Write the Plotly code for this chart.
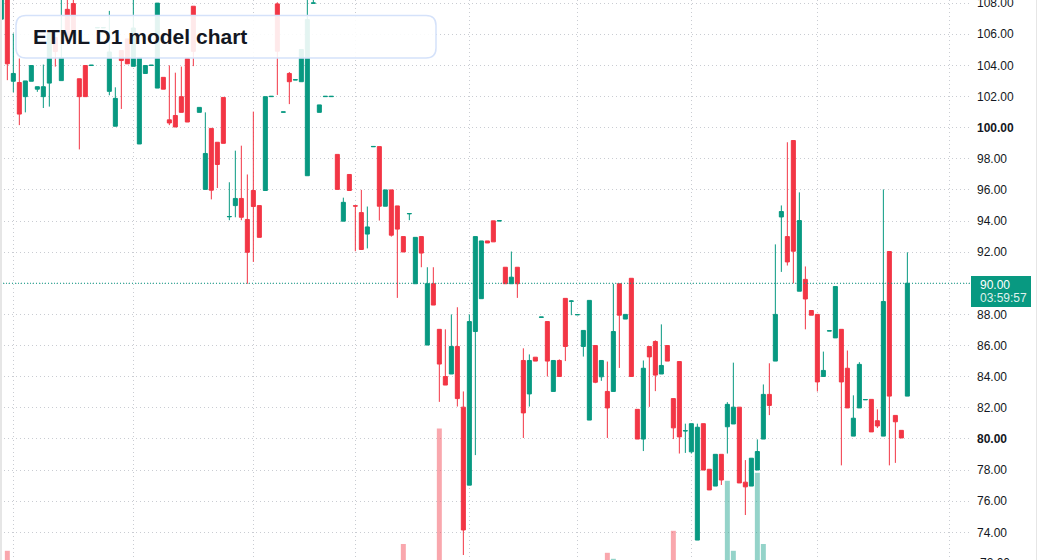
import plotly.graph_objects as go

# ---------------- data ----------------
opens = [
    106.97, 108.9, 102.98, 102.9, 101.99, 102.98, 102.47, 101.99, 102.86, 105.79,
    103.02, 107.6, 107.97, 103.14, 103.99, 103.99, 106.41, 106.41, 102.33, 100.09,
    104.95, 105.7, 103.94, 98.95, 103.48, 103.99, 102.54, 103.23, 100.5, 100.78,
    101.99, 104.44, 107.8, 100.98, 96.03, 99.95, 99.06, 101.94, 94.27, 94.99,
    95.45, 94.1, 95.96, 94.99, 95.96, 101.99, 107.95, 100.99, 103.48, 103.06,
    102.95, 96.91, 107.99, 100.98, 101.99, 101.99, 98.28, 93.99, 96.99, 94.98,
    94.54, 93.16, 98.77, 98.78, 94.95, 96.0, 94.97, 93.0, 94.46, 89.97,
    93.0, 86.03, 89.97, 87.04, 84.01, 84.17, 85.94, 82.04, 77.03, 86.9,
    89.01, 92.72, 94.01, 94.0, 91.03, 89.97, 91.03, 85.04, 82.89, 85.25,
    87.81, 87.54, 83.05, 85.04, 89.03, 88.84, 87.97, 85.94, 81.21, 86.0,
    83.99, 83.05, 83.05, 89.97, 87.7, 90.32, 81.9, 79.99, 85.94, 86.26,
    84.17, 86.0, 82.59, 84.97, 80.51, 79.17, 73.5, 80.98, 78.05, 76.97,
    79.01, 80.78, 80.96, 82.04, 77.22, 76.97, 78.0, 79.99, 82.86, 85.0,
    94.26, 93.0, 99.17, 89.49, 90.25, 88.25, 88.0, 84.01, 86.93, 86.49,
    87.04, 84.54, 80.18, 81.99, 82.51, 82.54, 81.17, 80.18, 92.04, 81.51,
    80.55, 82.75,
]
highs = [
    108.8, 109.0, 106.05, 104.44, 103.0, 103.99, 102.63, 104.05, 106.05, 105.79,
    108.6, 108.6, 108.6, 103.14, 103.99, 104.01, 106.43, 106.43, 107.5, 102.59,
    104.95, 105.7, 108.6, 104.5, 103.99, 104.01, 108.0, 103.23, 104.0, 103.53,
    103.92, 104.44, 107.8, 101.3, 100.98, 99.95, 99.06, 101.94, 96.49, 98.52,
    98.84, 96.99, 101.03, 94.99, 101.99, 102.01, 108.05, 101.01, 103.57, 103.08,
    105.02, 108.6, 108.4, 101.46, 102.01, 102.01, 98.28, 95.5, 96.99, 94.98,
    96.0, 94.93, 98.79, 98.78, 96.0, 96.0, 94.97, 93.0, 94.48, 92.95,
    93.0, 91.03, 91.03, 87.04, 87.04, 88.0, 88.46, 83.05, 88.0, 93.0,
    92.72, 92.72, 94.01, 94.02, 91.03, 92.04, 91.03, 85.82, 85.43, 85.25,
    87.83, 87.54, 85.04, 85.11, 89.03, 88.9, 87.99, 86.97, 88.9, 86.0,
    85.04, 84.97, 89.97, 89.97, 88.0, 90.32, 81.9, 85.04, 85.94, 86.33,
    87.36, 86.0, 82.59, 84.97, 80.98, 80.98, 80.98, 80.98, 78.05, 79.01,
    79.01, 82.36, 84.9, 82.04, 78.64, 78.76, 79.97, 83.5, 84.86, 92.5,
    95.0, 99.06, 99.17, 95.84, 91.08, 88.25, 88.0, 85.61, 86.95, 89.79,
    87.04, 85.68, 82.8, 84.93, 82.53, 82.54, 81.9, 96.03, 92.04, 81.51,
    80.55, 91.99,
]
lows = [
    106.97, 103.05, 102.27, 100.16, 100.98, 102.98, 102.3, 101.26, 101.35, 103.92,
    103.02, 105.3, 106.24, 98.6, 101.99, 103.99, 106.41, 106.41, 102.08, 100.09,
    101.2, 104.1, 103.94, 98.95, 103.48, 103.99, 102.54, 102.47, 100.16, 100.04,
    100.98, 100.36, 103.95, 100.98, 96.03, 95.39, 96.12, 98.99, 94.05, 94.24,
    94.05, 89.97, 91.37, 92.95, 95.96, 101.99, 102.1, 100.99, 101.51, 103.06,
    102.95, 96.91, 107.99, 100.98, 101.99, 101.99, 96.03, 93.99, 95.96, 92.06,
    92.17, 92.24, 98.77, 94.03, 94.95, 93.0, 89.06, 92.01, 94.05, 89.97,
    91.03, 86.03, 88.6, 82.38, 83.46, 84.17, 82.08, 72.54, 77.03, 78.96,
    89.01, 92.59, 92.66, 94.0, 89.97, 89.97, 89.06, 80.06, 82.08, 85.0,
    87.81, 84.01, 83.05, 84.01, 85.0, 87.95, 87.97, 85.29, 81.21, 83.58,
    83.73, 80.06, 83.05, 84.56, 87.7, 84.01, 79.99, 79.22, 82.06, 83.07,
    84.17, 85.0, 79.99, 79.06, 79.1, 79.06, 73.5, 78.0, 76.72, 76.97,
    77.04, 79.06, 80.96, 77.17, 75.11, 76.97, 78.0, 79.99, 81.53, 85.0,
    90.73, 91.14, 89.99, 89.49, 87.04, 87.95, 83.05, 84.01, 86.93, 86.49,
    78.3, 81.99, 80.18, 81.99, 82.51, 80.45, 80.7, 80.18, 78.3, 78.46,
    80.06, 82.75,
]
closes = [
    108.8, 104.1, 103.48, 100.87, 103.0, 103.99, 102.63, 102.63, 106.05, 104.89,
    104.5, 105.6, 106.24, 101.99, 101.99, 104.01, 106.43, 106.43, 104.86, 101.88,
    104.31, 104.1, 106.4, 104.5, 103.99, 104.01, 108.0, 102.47, 100.3, 100.04,
    100.98, 100.36, 104.9, 101.3, 98.34, 95.98, 97.63, 98.99, 94.29, 95.45,
    94.24, 91.99, 94.93, 92.95, 101.99, 102.01, 104.91, 101.01, 102.95, 103.08,
    105.02, 106.94, 108.01, 101.46, 102.01, 102.01, 96.03, 95.2, 95.96, 94.96,
    92.17, 93.62, 98.79, 94.95, 96.0, 93.09, 93.48, 92.01, 94.48, 92.95,
    91.94, 89.97, 88.6, 84.81, 83.46, 85.94, 82.59, 74.15, 87.54, 93.0,
    92.72, 92.59, 92.66, 94.02, 89.97, 90.39, 89.97, 81.67, 85.04, 85.0,
    87.83, 85.0, 85.04, 84.01, 85.94, 88.86, 87.99, 86.97, 88.9, 83.64,
    85.04, 81.99, 86.9, 87.95, 88.0, 84.01, 79.99, 84.54, 85.27, 84.1,
    84.72, 85.0, 80.71, 80.13, 80.53, 80.98, 80.75, 78.0, 76.72, 79.01,
    77.36, 82.22, 82.04, 77.17, 76.92, 78.76, 79.19, 82.86, 82.15, 88.0,
    94.61, 91.37, 92.06, 94.03, 88.99, 87.95, 83.66, 84.4, 86.95, 89.79,
    83.66, 81.99, 81.33, 84.79, 82.53, 80.45, 80.83, 88.83, 82.75, 81.1,
    80.06, 90.0,
]

# volume (only the bars tall enough to be seen in the visible window)
vol_idx = [1, 67, 73, 101, 102, 112, 121, 122, 126, 127]
vol_val = [1.23, 1.40, 4.29, 1.18, 1.03, 1.73, 2.98, 1.23, 3.18, 1.40]

# vertical (time) grid positions, in bar index
time_grid = [2, 22, 42, 59, 78, 96, 115, 136, 158]

# price ticks
price_ticks = [74, 76, 78, 80, 82, 84, 86, 88, 90, 92, 94, 96, 98, 100, 102, 104, 106, 108]
bold_ticks = [80, 100]

title_text = "ETML D1 model chart"
last_price = 90.00
countdown = "03:59:57"

# ---------------- styling ----------------
GREEN = '#089981'
RED = '#F23645'
TXT = '#131722'
FONT = 'Liberation Sans'
FIG_W, FIG_H = 1037, 560
PLOT_W = 970

def paper(x, y):
    return x / PLOT_W, 1 - y / FIG_H

x_idx = list(range(len(opens)))
vol_colors = ['rgba(242,54,69,0.44)' if closes[i] < opens[i] else 'rgba(8,153,129,0.43)'
              for i in vol_idx]

fig = go.Figure()
fig.add_trace(go.Bar(
    x=vol_idx, y=vol_val, yaxis='y2', width=0.83,
    marker=dict(color=vol_colors, line=dict(width=0)),
    hoverinfo='skip', showlegend=False))
fig.add_trace(go.Candlestick(
    x=x_idx, open=opens, high=highs, low=lows, close=closes,
    increasing=dict(line=dict(color=GREEN, width=1), fillcolor=GREEN),
    decreasing=dict(line=dict(color=RED, width=1), fillcolor=RED),
    whiskerwidth=0, showlegend=False))

# the last-price badge covers the 90.00 tick label, so that label is left empty
ticktext = [("" if v == last_price else (f"<b>{v:.2f}</b>" if v in bold_ticks else f"{v:.2f}"))
            for v in price_ticks]

grid_kw = dict(showgrid=True, gridcolor='#c9ccd2', gridwidth=1, griddash='1px,3px',
               zeroline=False, showline=False, ticks='', automargin=False)

fig.update_layout(
    width=FIG_W, height=FIG_H,
    margin=dict(l=0, r=FIG_W - PLOT_W, t=0, b=0, autoexpand=False),
    paper_bgcolor='white', plot_bgcolor='white',
    boxgap=0.33, boxgroupgap=0,
    showlegend=False,
    xaxis=dict(range=[-0.222, 161.44], rangeslider=dict(visible=False),
               tickvals=time_grid, showticklabels=False, **grid_kw),
    yaxis=dict(side='right', range=[72.22, 108.2], tickvals=price_ticks, ticktext=ticktext,
               tickfont=dict(family=FONT, size=12, color=TXT), ticklabelstandoff=6,
               ticklabeloverflow='allow', **grid_kw),
    yaxis2=dict(overlaying='y', range=[1.0, 15.0], visible=False),
)

# title box with rounded corners
bx0, by0, bx1, by1, r = 16, 15.5, 436, 58, 10
def P(x, y):
    px, py = paper(x, y)
    return f"{px:.5f},{py:.5f}"
path = (f"M {P(bx0 + r, by0)} L {P(bx1 - r, by0)} Q {P(bx1, by0)} {P(bx1, by0 + r)} "
        f"L {P(bx1, by1 - r)} Q {P(bx1, by1)} {P(bx1 - r, by1)} "
        f"L {P(bx0 + r, by1)} Q {P(bx0, by1)} {P(bx0, by1 - r)} "
        f"L {P(bx0, by0 + r)} Q {P(bx0, by0)} {P(bx0 + r, by0)} Z")

lx0, _ = paper(971, 0)
lx1, _ = paper(1031, 0)
_, ly0 = paper(0, 307)
_, ly1 = paper(0, 276)

fig.update_layout(shapes=[
    dict(type='line', xref='paper', yref='y', x0=0, x1=1, y0=last_price, y1=last_price,
         line=dict(color=GREEN, width=1, dash='1px,2px'), layer='above'),
    dict(type='path', xref='paper', yref='paper', path=path,
         fillcolor='rgba(255,255,255,0.89)', line=dict(color='#d5e2fa', width=1.5), layer='above'),
    dict(type='rect', xref='paper', yref='paper', x0=lx0, x1=lx1, y0=ly0, y1=ly1,
         fillcolor=GREEN, line=dict(width=0), layer='above'),
    dict(type='rect', xref='paper', yref='paper', x0=0, x1=2 / PLOT_W, y0=0, y1=1,
         fillcolor='#e6e6e6', line=dict(width=0), layer='above'),
    dict(type='rect', xref='paper', yref='paper', x0=1036 / PLOT_W, x1=1037 / PLOT_W, y0=0, y1=1,
         fillcolor='#e6e6e6', line=dict(width=0), layer='above'),
])

tx, ty = paper(32, 37)
px_, py1 = paper(979, 284.5)
_, py2 = paper(979, 297.5)
_, py3 = paper(979, 563)
fig.update_layout(annotations=[
    dict(xref='paper', yref='paper', x=tx, y=ty, xanchor='left', yanchor='middle',
         text=f"<b>{title_text}</b>", showarrow=False, borderpad=0,
         font=dict(family=FONT, size=21, color=TXT)),
    dict(xref='paper', yref='paper', x=px_, y=py1, xanchor='left', yanchor='middle',
         text=f"{last_price:.2f}", showarrow=False, borderpad=0,
         font=dict(family=FONT, size=12, color='white')),
    dict(xref='paper', yref='paper', x=px_, y=py2, xanchor='left', yanchor='middle',
         text=countdown, showarrow=False, borderpad=0,
         font=dict(family=FONT, size=12, color='rgba(255,255,255,0.88)')),
    dict(xref='paper', yref='paper', x=px_, y=py3, xanchor='left', yanchor='middle',
         text="72.00", showarrow=False, borderpad=0,
         font=dict(family=FONT, size=12, color=TXT)),
])

fig.write_html("out.html")
